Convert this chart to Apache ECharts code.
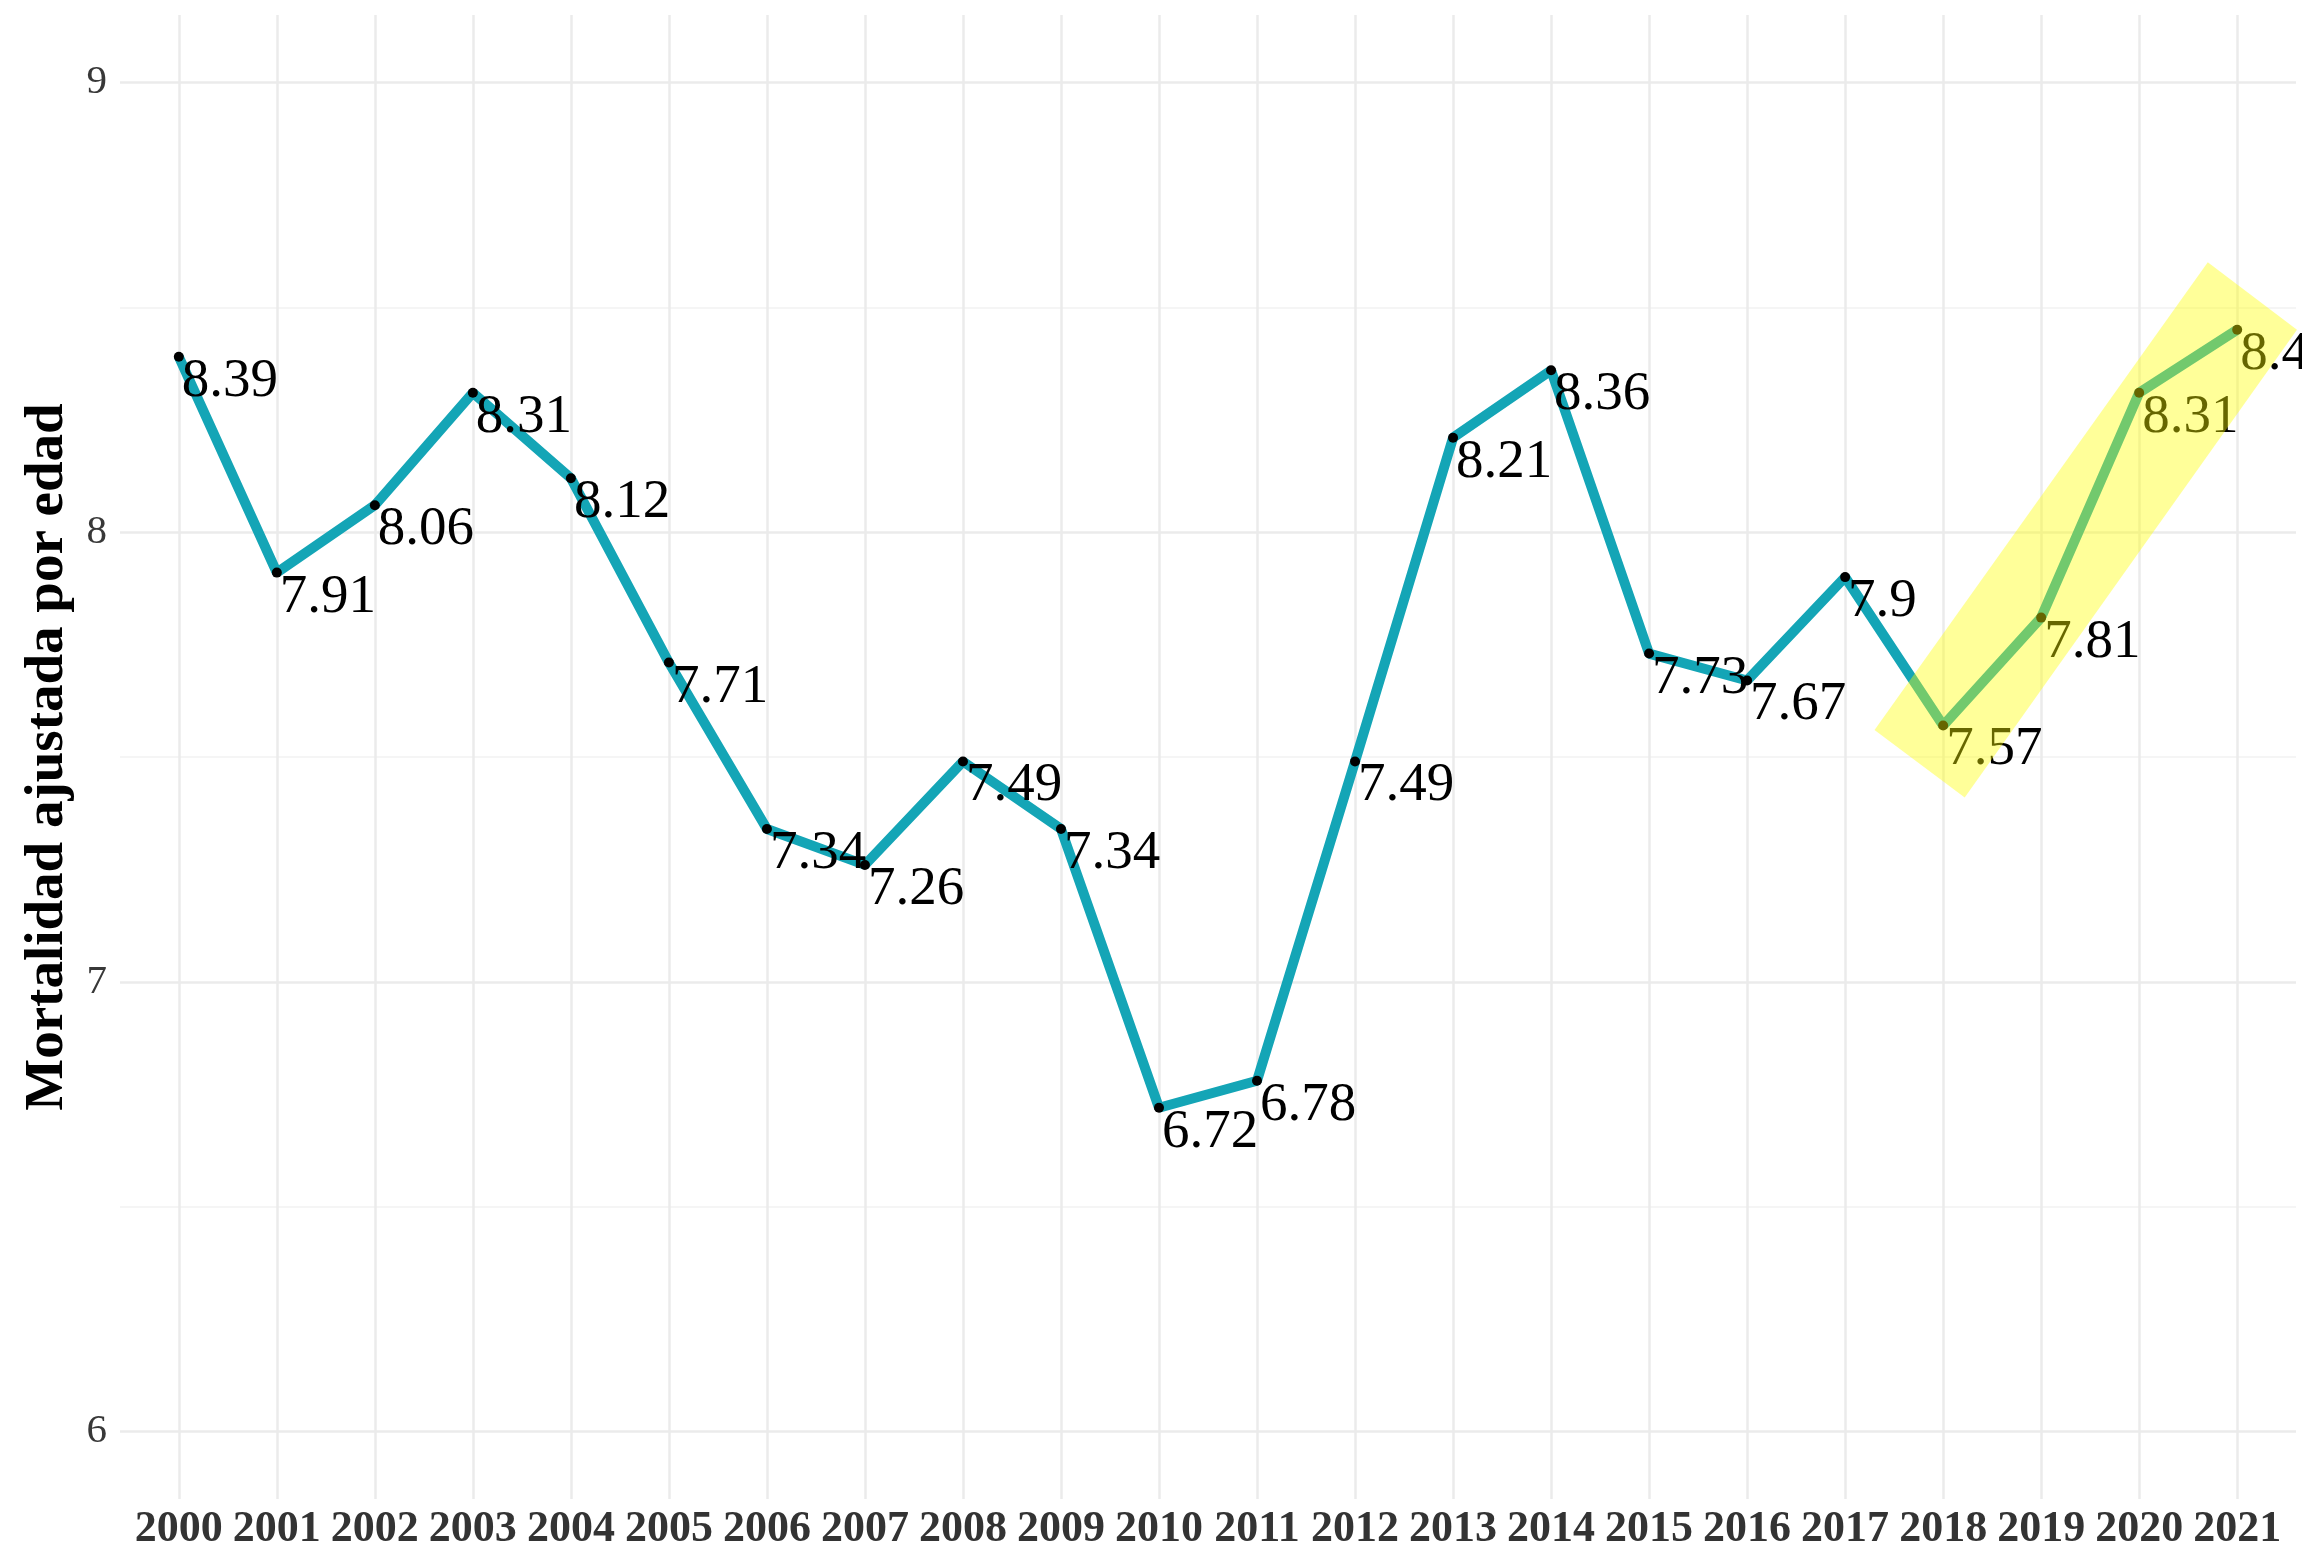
<!DOCTYPE html>
<html>
<head>
<meta charset="utf-8">
<script src="https://cdn.jsdelivr.net/npm/echarts@6/dist/echarts.min.js"></script>
<style>
  html, body { margin: 0; padding: 0; background: #fff; }
  #chart { width: 2302px; height: 1550px; }
</style>
</head>
<body>
<div id="chart"></div>
<script>
const years = [2000, 2001, 2002, 2003, 2004, 2005, 2006, 2007, 2008, 2009, 2010,
  2011, 2012, 2013, 2014, 2015, 2016, 2017, 2018, 2019, 2020, 2021]
const mortality = [8.39, 7.91, 8.06, 8.31, 8.12, 7.71, 7.34, 7.26, 7.49, 7.34, 6.72,
  6.78, 7.49, 8.21, 8.36, 7.73, 7.67, 7.9, 7.57, 7.81, 8.31, 8.45]

const yTicks = [6, 7, 8, 9]
const yMinorTicks = [6.5, 7.5, 8.5]

// highlighted stretch 2018-2021: corners of the tilted box, in data units
const bandYears = [2017.3, 2018.22, 2021.61, 2020.7]
const bandValues = [7.56, 7.41, 8.45, 8.6]

const SERIF = "'Liberation Serif', 'Times New Roman', serif"
const LINE_COLOR = '#14a5b6'

const chart = echarts.init(document.getElementById('chart'))

const bandPoint = bandYears.flatMap((x, i) => [x, bandValues[i]])

const option = {
  animation: false,
  grid: { left: 120, right: 6, top: 15, bottom: 51, containLabel: false, outerBoundsMode: 'none' },
  xAxis: {
    type: 'value',
    min: 1999.4,
    max: 2021.6,
    axisLine: { show: false },
    axisTick: { show: false, customValues: years },
    axisLabel: {
      customValues: years,
      fontFamily: SERIF,
      fontWeight: 'bold',
      fontSize: 44,
      lineHeight: 44,
      color: '#333',
      margin: 9,
      formatter: v => String(v)
    },
    splitLine: { show: true, lineStyle: { color: '#ebebeb', width: 2.5 } }
  },
  yAxis: [
    {
      type: 'value',
      min: 5.85,
      max: 9.15,
      name: 'Mortalidad ajustada por edad',
      nameLocation: 'middle',
      nameRotate: 90,
      nameGap: 40,
      nameTextStyle: {
        fontFamily: SERIF,
        fontWeight: 'bold',
        fontSize: 55,
        lineHeight: 55,
        color: '#000'
      },
      axisLine: { show: false },
      axisTick: { show: false, customValues: yTicks },
      axisLabel: {
        customValues: yTicks,
        fontFamily: SERIF,
        fontSize: 41,
        color: '#383838',
        margin: 13
      },
      splitLine: { show: true, lineStyle: { color: '#ebebeb', width: 2.5 } }
    },
    {
      type: 'value',
      min: 5.85,
      max: 9.15,
      axisLine: { show: false },
      axisTick: { show: false, customValues: yMinorTicks },
      axisLabel: { show: false, customValues: yMinorTicks },
      splitLine: { show: true, lineStyle: { color: '#f2f2f2', width: 1.5 } }
    }
  ],
  series: [
    {
      type: 'line',
      data: years.map((y, i) => [y, mortality[i]]),
      z: 3,
      symbol: 'circle',
      symbolSize: 10,
      itemStyle: { color: '#000' },
      lineStyle: { color: LINE_COLOR, width: 10 },
      label: {
        show: true,
        position: [8, 2],
        align: 'left',
        verticalAlign: 'top',
        fontFamily: SERIF,
        fontSize: 55,
        lineHeight: 55,
        color: '#000',
        formatter: p => String(p.value[1])
      }
    },
    {
      type: 'custom',
      z: 10,
      clip: false,
      silent: true,
      encode: { x: [0, 2, 4, 6], y: [1, 3, 5, 7] },
      data: [bandPoint],
      renderItem(params, api) {
        const points = [0, 1, 2, 3].map(i => api.coord([api.value(2 * i), api.value(2 * i + 1)]))
        return {
          type: 'polygon',
          shape: { points },
          style: { fill: 'rgba(255, 255, 0, 0.4)' }
        }
      }
    }
  ]
}

chart.setOption(option)
</script>
</body>
</html>
